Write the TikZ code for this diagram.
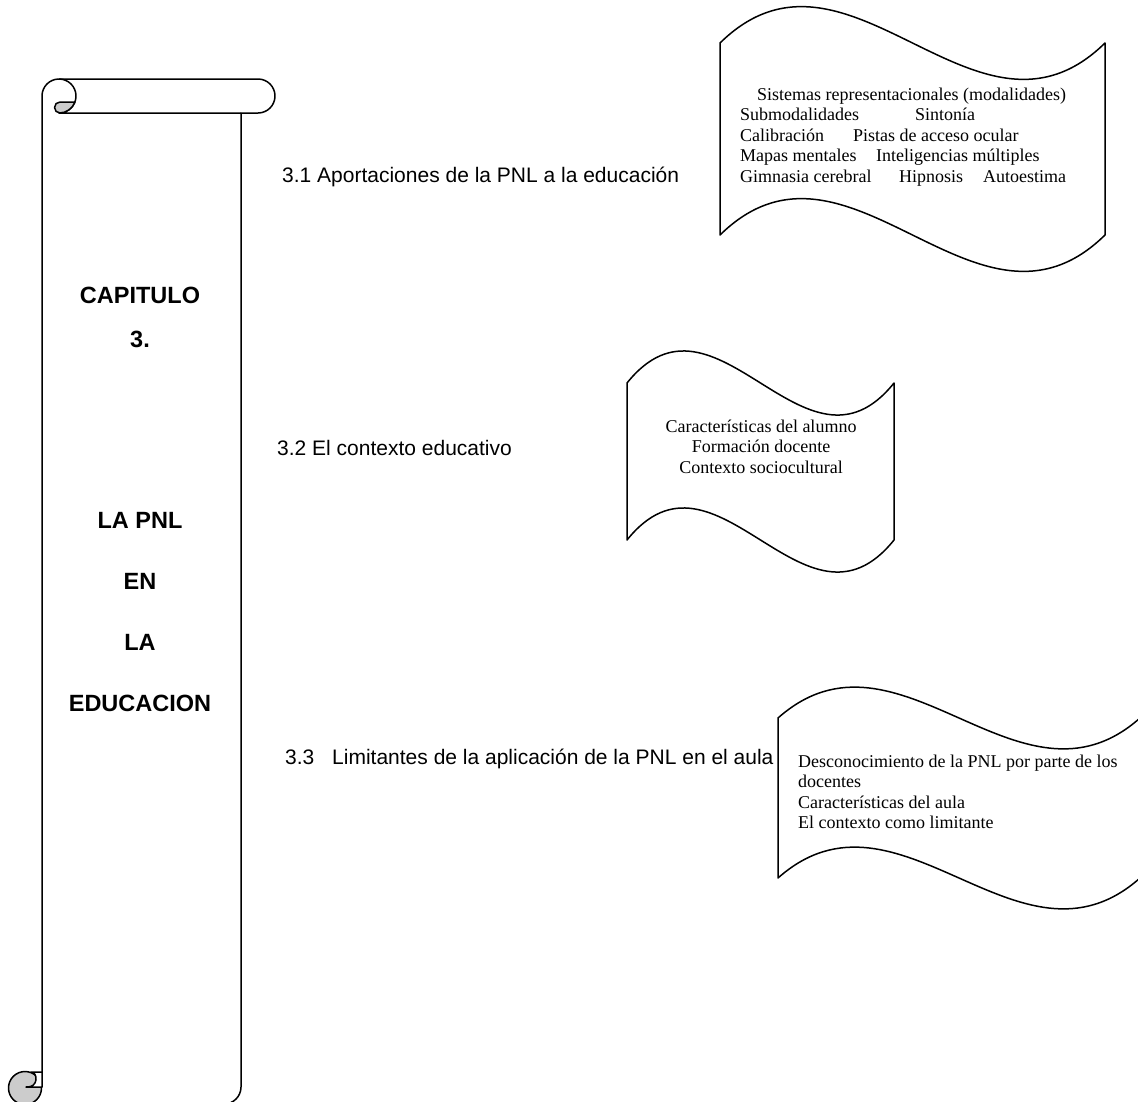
\documentclass[tikz,border=0pt]{standalone}
\usepackage{fontspec}
\setmainfont{Liberation Serif}
\newfontfamily\arialfont{Liberation Sans}
\begin{document}
\begin{tikzpicture}[x=1pt,y=1pt,
  outline/.style={line width=1.5pt, line join=round},
  lbl/.style={font=\arialfont\fontsize{21}{25}\selectfont, anchor=base west, inner sep=0pt},
  captxt/.style={font=\arialfont\bfseries\fontsize{23.5}{28}\selectfont, anchor=base, inner sep=0pt},
  wtxt/.style={font=\fontsize{18}{20.5}\selectfont, inner sep=0pt, anchor=base west},
  wtxtc/.style={font=\fontsize{18}{20.5}\selectfont, inner sep=0pt, anchor=base}]
\useasboundingbox (0,0) rectangle (1138,-1101);
\begin{scope}
\clip (0,0) rectangle (1138,-1101);
% ---------- vertical scroll ----------
\draw[outline, fill=white] (42,-1087) -- (42,-96) arc[start angle=180,end angle=90,radius=17]
  -- (258,-79) arc[start angle=90,end angle=-90,radius=17] -- (241,-113) -- (241,-1087)
  arc[start angle=0,end angle=-90,radius=17] -- (25,-1104);
\draw[outline] (59,-79) arc[start angle=90,end angle=-90,radius=17] -- (241,-113);
\draw[outline, fill=gray!40] (60,-113) arc[start angle=-90,end angle=-270,radius=5.5]
  -- (75,-102) arc[start angle=-20.6,end angle=-90,radius=17] -- cycle;
\draw[outline, fill=gray!40] (25,-1088) circle[radius=16.5];
\draw[outline, fill=white] (31,-1072) -- (42,-1072) -- (42,-1087) -- (26,-1087)
  .. controls (39,-1088) and (38,-1072) .. (31,-1072) -- cycle;
% ---------- waves ----------
\newcommand{\wavepath}[5]{%
  \draw[outline, fill=white] (#1,-#3) .. controls ({#1+(#2-#1)/3},{-#3+#5}) and ({#1+2*(#2-#1)/3},{-#3-#5}) .. (#2,-#3)
   -- (#2,-#4) .. controls ({#1+2*(#2-#1)/3},{-#4-#5}) and ({#1+(#2-#1)/3},{-#4+#5}) .. (#1,-#4) -- cycle;}
\wavepath{720}{1105}{43}{235}{126}
\wavepath{627}{894}{383}{540}{111}
\wavepath{778}{1140}{718}{878}{107}
\end{scope}
% ---------- scroll text ----------
\node[captxt] (c1) at (140,-303) {CAPITULO};
\node[captxt] (c2) at (140,-347) {3.};
\node[captxt] (c3) at (140,-528) {LA PNL};
\node[captxt] (c4) at (140,-589) {EN};
\node[captxt] (c5) at (140,-650) {LA};
\node[captxt] (c6) at (140,-711) {EDUCACION};
% ---------- section labels ----------
\node[lbl] (s1) at (282,-182) {3.1 Aportaciones de la PNL a la educación};
\node[lbl] (s2) at (277,-455) {3.2 El contexto educativo};
\node[lbl] (s3) at (285,-764) {3.3\hspace{12pt} Limitantes de la aplicación de la PNL en el aula};
% ---------- wave 1 text ----------
\node[wtxt] (a1) at (757,-100) {Sistemas representacionales (modalidades)};
\node[wtxt] (a2) at (740,-120.5) {\makebox[175pt][l]{Submodalidades}Sintonía};
\node[wtxt] (a3) at (740,-141) {\makebox[113pt][l]{Calibración}Pistas de acceso ocular};
\node[wtxt] (a4) at (740,-161.5) {\makebox[136pt][l]{Mapas mentales}Inteligencias múltiples};
\node[wtxt] (a5) at (740,-182) {\makebox[159pt][l]{Gimnasia cerebral}\makebox[84pt][l]{Hipnosis}Autoestima};
% ---------- wave 2 text ----------
\node[wtxtc] (b1) at (761,-432) {Características del alumno};
\node[wtxtc] (b2) at (761,-452.5) {Formación docente};
\node[wtxtc] (b3) at (761,-473) {Contexto sociocultural};
% ---------- wave 3 text ----------
\node[wtxt] (d1) at (798,-767) {Desconocimiento de la PNL por parte de los};
\node[wtxt] (d2) at (798,-787.5) {docentes};
\node[wtxt] (d3) at (798,-808) {Características del aula};
\node[wtxt] (d4) at (798,-828.5) {El contexto como limitante};
\end{tikzpicture}
\end{document}
